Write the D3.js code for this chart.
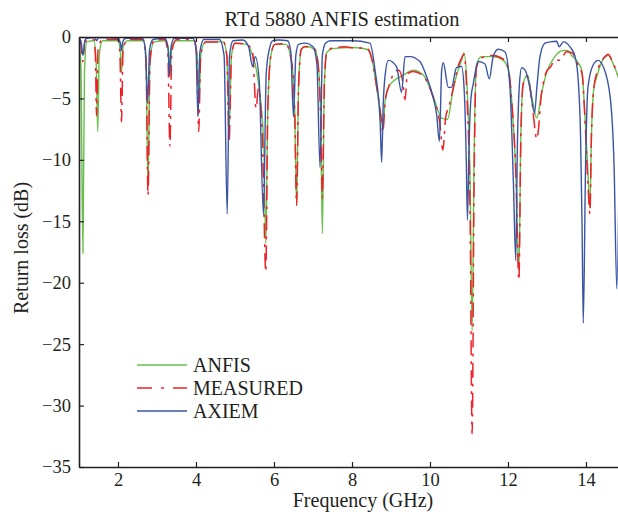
<!DOCTYPE html>
<html>
<head>
<meta charset="utf-8">
<script src="https://cdn.jsdelivr.net/npm/d3@7"></script>
<style>
  body { margin: 0; background: #fff; }
  svg { display: block; }
  text { font-family: "Liberation Serif", "DejaVu Serif", serif; fill: #231f20; }
</style>
</head>
<body>
<script>
// tick labels
const freqTicks = [2, 4, 6, 8, 10, 12, 14];
const dbTicks = [0, -5, -10, -15, -20, -25, -30, -35];
const seriesNames = ["ANFIS", "MEASURED", "AXIEM"];

// ANFIS estimation
const anfisFreq = [1.0, 1.05, 1.1, 1.14, 1.2, 1.38, 1.44, 1.48, 1.52, 1.6, 2.0, 2.06, 2.09, 2.13, 2.25,
  2.65, 2.72, 2.77, 2.82, 2.92, 3.22, 3.3, 3.33, 3.38, 3.5, 3.95, 4.03, 4.08, 4.13, 4.25,
  4.7, 4.79, 4.85, 4.91, 5.0, 5.3, 5.45, 5.55, 5.65, 5.74, 5.79, 5.84, 5.92, 6.02, 6.3,
  6.45, 6.53, 6.58, 6.63, 6.7, 6.8, 7.05, 7.14, 7.2, 7.24, 7.29, 7.35, 7.5, 8.03, 8.38,
  8.5, 8.63, 8.76, 8.79, 8.85, 8.97, 9.32, 9.57, 9.83, 10.09, 10.3, 10.45, 10.58, 10.72, 10.81,
  10.87, 10.95, 11.03, 11.08, 11.13, 11.19, 11.32, 11.62, 11.88, 12.01, 12.1, 12.2, 12.28, 12.33,
  12.39, 12.5, 12.61, 12.74, 12.86, 12.99, 13.2, 13.42, 13.52, 13.63, 13.8, 13.89, 13.97, 14.05,
  14.1, 14.14, 14.2, 14.27, 14.49, 14.57, 14.7, 14.85];
const anfisDb = [-0.3, -2.5, -17.6, -3, -0.4, -0.3, -2, -7.7, -1.5, -0.3, -0.3, -1.2, -2.9, -0.8, -0.3,
  -0.3, -2.2, -12.2, -2, -0.4, -0.3, -1.2, -3.2, -0.8, -0.3, -0.3, -1.5, -5.0, -1.2, -0.4,
  -0.4, -1.5, -7.5, -1.5, -0.5, -0.6, -1.5, -2.7, -5, -9, -16.8, -6, -1.5, -0.6, -0.6,
  -2, -6, -13.7, -4, -1.0, -0.75, -1.0, -2.5, -7, -16.0, -4, -1.3, -0.95, -0.85, -1.0,
  -1.6, -4.1, -6.8, -7.6, -5.2, -3.9, -3.1, -2.7, -3.1, -4.9, -6.6, -6.7, -4.5, -2.7, -1.9,
  -1.3, -4, -12, -23.9, -10, -2.3, -1.6, -1.6, -1.9, -2.7, -5.4, -11, -19.0, -8,
  -3.8, -3.1, -4.9, -6.6, -4.6, -2.9, -1.6, -1.1, -1.1, -1.5, -2.1, -2.7, -6.2, -11,
  -13.9, -8, -4.2, -3.3, -1.6, -1.5, -2.2, -3.5];

// measured return loss
const measFreq = [1.0, 1.05, 1.1, 1.15, 1.25, 1.38, 1.42, 1.45, 1.49, 1.6, 2.0, 2.05, 2.09, 2.13, 2.25,
  2.65, 2.72, 2.77, 2.82, 2.92, 3.2, 3.28, 3.33, 3.38, 3.5, 3.95, 4.02, 4.07, 4.12, 4.25,
  4.7, 4.79, 4.85, 4.91, 5.0, 5.3, 5.45, 5.54, 5.6, 5.7, 5.79, 5.84, 5.92, 6.02, 6.3,
  6.45, 6.53, 6.58, 6.63, 6.7, 6.8, 7.05, 7.14, 7.2, 7.24, 7.29, 7.35, 7.5, 7.8, 8.1,
  8.38, 8.5, 8.63, 8.76, 8.79, 8.85, 8.97, 9.1, 9.2, 9.3, 9.36, 9.42, 9.57, 9.83, 10.09,
  10.25, 10.33, 10.4, 10.5, 10.6, 10.72, 10.81, 10.87, 10.95, 11.03, 11.08, 11.13, 11.19, 11.32,
  11.62, 11.88, 12.01, 12.1, 12.2, 12.28, 12.33, 12.39, 12.5, 12.61, 12.74, 12.86, 12.99, 13.1,
  13.2, 13.33, 13.5, 13.65, 13.8, 13.9, 13.97, 14.05, 14.1, 14.14, 14.2, 14.27, 14.49, 14.57,
  14.7, 14.85];
const measDb = [-0.2, -0.6, -2.0, -0.4, -0.2, -0.2, -1.5, -6.4, -1.0, -0.2, -0.2, -1.5, -6.9, -1.0, -0.2,
  -0.2, -2.2, -12.9, -2, -0.3, -0.2, -1.5, -8.9, -1.2, -0.2, -0.2, -1.5, -7.7, -1.5, -0.4,
  -0.4, -1.5, -8.4, -1.5, -0.5, -0.6, -1.2, -5.8, -4.2, -8, -19.1, -6, -1.5, -0.6, -0.55,
  -2, -6, -13.7, -4, -1.0, -0.8, -1.0, -2.5, -7, -13.1, -4, -1.3, -0.9, -0.8, -0.9,
  -0.9, -1.7, -4.0, -7.0, -7.8, -5.2, -3.8, -2.8, -2.7, -3.6, -5.1, -3.0, -2.8, -3.2, -5.0,
  -7.0, -9.2, -6.6, -5.5, -4.1, -2.4, -1.7, -1.4, -5, -15, -32.3, -12, -2.5, -1.7,
  -1.5, -1.8, -2.6, -5.4, -11, -19.8, -8, -3.8, -3.2, -5.2, -8.3, -4.6, -2.8, -2.4,
  -1.9, -1.9, -1.2, -1.3, -2.3, -3.0, -6.5, -12, -14.4, -8, -4.2, -3.0, -1.6, -1.4,
  -2.2, -3.2];

// AXIEM simulation
const axiemFreq = [1.0, 1.05, 1.1, 1.15, 1.2, 1.4, 1.45, 1.5, 2.0, 2.06, 2.09, 2.12, 2.2, 2.62, 2.7,
  2.76, 2.81, 2.9, 3.2, 3.28, 3.32, 3.36, 3.45, 3.92, 4.0, 4.05, 4.1, 4.2, 4.6, 4.72,
  4.8, 4.86, 4.95, 5.2, 5.35, 5.45, 5.52, 5.62, 5.73, 5.8, 5.88, 5.97, 6.1, 6.35, 6.43,
  6.5, 6.56, 6.63, 6.8, 7.0, 7.1, 7.18, 7.24, 7.32, 7.45, 8.0, 8.46, 8.59, 8.72, 8.76,
  8.8, 8.85, 8.93, 9.14, 9.27, 9.36, 9.49, 9.74, 9.91, 10.08, 10.17, 10.24, 10.3, 10.34, 10.47,
  10.55, 10.68, 10.81, 10.88, 10.93, 10.96, 11.0, 11.05, 11.11, 11.24, 11.41, 11.52, 11.62, 11.75,
  11.92, 12.05, 12.14, 12.2, 12.24, 12.29, 12.35, 12.44, 12.56, 12.68, 12.74, 12.82, 12.95, 13.08,
  13.25, 13.31, 13.42, 13.59, 13.72, 13.8, 13.86, 13.9, 13.93, 13.99, 14.05, 14.18, 14.31, 14.44,
  14.62, 14.72, 14.79, 14.86];
const axiemDb = [-0.1, -0.3, -1.5, -0.3, -0.1, -0.05, -0.3, -0.05, -0.1, -0.5, -1.1, -0.4, -0.1, -0.1, -0.9,
  -5.4, -1.0, -0.2, -0.1, -0.8, -3.2, -0.8, -0.1, -0.1, -1.0, -6.5, -1.2, -0.2, -0.2, -1.5,
  -14.4, -1.5, -0.3, -0.25, -0.8, -2.4, -1.6, -3.5, -14.5, -3.0, -1.0, -0.3, -0.25, -0.3, -1.2,
  -6.5, -1.5, -0.6, -0.5, -0.8, -2.2, -10.6, -1.5, -0.5, -0.3, -0.3, -0.5, -2.7, -6.8, -10.2,
  -5.5, -3.1, -1.9, -2.4, -4.5, -1.6, -1.6, -2.0, -3.2, -4.9, -6.3, -8.5, -2.7, -2.1, -4.1,
  -4.1, -2.5, -2.4, -4.5, -10, -14.9, -9, -5, -3.8, -2.0, -2.2, -3.4, -1.6, -1.0,
  -1.2, -4.1, -12, -18.2, -9, -4, -2.5, -2.7, -4.1, -6.2, -4.1, -1.6, -0.5, -0.4,
  -0.35, -0.8, -0.4, -0.8, -1.6, -3.5, -8, -15.5, -23.3, -10.3, -4.1, -2.3, -1.9, -2.4,
  -4.9, -10.5, -20.5, -8];

const W = 618, H = 514;
const margin = { left: 79, top: 37, bottom: 467 };
const svg = d3.select("body").append("svg").attr("width", W).attr("height", H);

const x = d3.scaleLinear().domain([1, 15]).range([margin.left, margin.left + 14 * 39]);
const y = d3.scaleLinear().domain([-35, 0]).range([margin.bottom, margin.top]);

svg.append("clipPath").attr("id", "plot")
  .append("rect")
  .attr("x", x(1)).attr("y", y(0) - 2)
  .attr("width", x(15) - x(1)).attr("height", y(-35) - y(0) + 2);

const series = [
  { name: seriesNames[0], f: anfisFreq, v: anfisDb, color: "#66c04a", dash: null, width: 1.4 },
  { name: seriesNames[1], f: measFreq, v: measDb, color: "#ef2027", dash: "15,6,3,6", width: 1.5 },
  { name: seriesNames[2], f: axiemFreq, v: axiemDb, color: "#3b55a5", dash: null, width: 1.4 }
];

const line = d3.line()
  .x(d => x(d[0]))
  .y(d => y(d[1]))
  .curve(d3.curveMonotoneX);

const plot = svg.append("g").attr("clip-path", "url(#plot)");
series.forEach(s => {
  plot.append("path")
    .datum(s.f.map((f, i) => [f, s.v[i]]))
    .attr("fill", "none")
    .attr("stroke", s.color)
    .attr("stroke-width", s.width)
    .attr("stroke-dasharray", s.dash)
    .attr("d", line);
});

// axes, MATLAB-style inward ticks
const axisColor = "#231f20";
const gBottom = svg.append("g").attr("transform", `translate(0,${y(-35)})`)
  .call(d3.axisBottom(x).tickValues(freqTicks).tickSize(-5).tickSizeOuter(0).tickPadding(6));
const gTop = svg.append("g").attr("transform", `translate(0,${y(0)})`)
  .call(d3.axisTop(x).tickValues(freqTicks).tickSize(-5).tickSizeOuter(0).tickFormat(""));
const gLeft = svg.append("g").attr("transform", `translate(${x(1)},0)`)
  .call(d3.axisLeft(y).tickValues(dbTicks).tickSize(-5).tickSizeOuter(0).tickPadding(8));

[gBottom, gTop, gLeft].forEach(g => {
  g.select(".domain").attr("stroke", axisColor).attr("stroke-width", 1.6);
  g.selectAll(".tick line").attr("stroke", axisColor).attr("stroke-width", 1.2);
  g.selectAll(".tick text").attr("font-size", 18.5).attr("font-family", null).attr("fill", axisColor);
});

svg.append("text")
  .attr("x", 342).attr("y", 26)
  .attr("text-anchor", "middle")
  .attr("font-size", 20.5)
  .text("RTd 5880 ANFIS estimation");

svg.append("text")
  .attr("x", 363).attr("y", 507)
  .attr("text-anchor", "middle")
  .attr("font-size", 20)
  .text("Frequency (GHz)");

svg.append("text")
  .attr("transform", "translate(28,248) rotate(-90)")
  .attr("text-anchor", "middle")
  .attr("font-size", 20)
  .text("Return loss (dB)");

// legend
const legend = svg.append("g");
series.forEach((s, i) => {
  const ly = 365 + i * 23;
  legend.append("line")
    .attr("x1", 137).attr("x2", 187)
    .attr("y1", ly).attr("y2", ly)
    .attr("stroke", s.color)
    .attr("stroke-width", s.width)
    .attr("stroke-dasharray", s.dash ? "15,9,3,9" : null);
  legend.append("text")
    .attr("x", 193).attr("y", ly)
    .attr("dy", "0.35em")
    .attr("font-size", 20)
    .text(s.name);
});
</script>
</body>
</html>
